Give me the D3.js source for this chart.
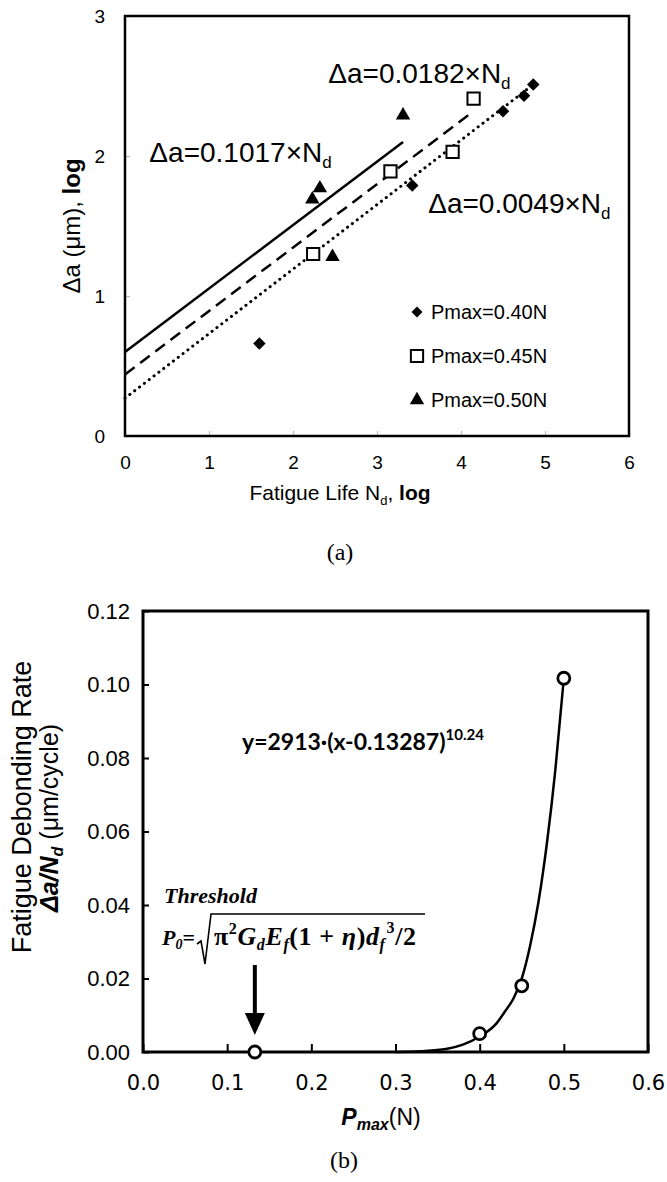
<!DOCTYPE html>
<html>
<head>
<meta charset="utf-8">
<script src="https://cdn.jsdelivr.net/npm/d3@7"></script>
<style>
body{margin:0;background:#fff}
text{font-family:"Liberation Sans",Arial,sans-serif;fill:#000}
</style>
</head>
<body>
<script>
// ---- (a) crack growth vs fatigue life (log-log) ----
var p40x=[1.60,3.42,4.50,4.75,4.86]
var p40y=[0.66,1.79,2.32,2.43,2.51]
var p45x=[2.24,3.16,3.90,4.15]
var p45y=[1.30,1.89,2.03,2.41]
var p50x=[2.23,2.32,2.47,3.31]
var p50y=[1.69,1.77,1.28,2.29]
var legendNames=["Pmax=0.40N","Pmax=0.45N","Pmax=0.50N"]
// trend lines, start and end
var fit50x=[0,3.31], fit50y=[0.60,2.10]
var fit45x=[0,4.15], fit45y=[0.44,2.32]
var fit40x=[0,4.86], fit40y=[0.27,2.51]
var fitCoef=["0.1017","0.0182","0.0049"]
var fitLabelX=[0.29,2.42,3.61]
var fitLabelY=[1.96,2.52,1.59]
var xTicksA=[0,1,2,3,4,5,6]
var yTicksA=[0,1,2,3]

// ---- (b) debonding rate vs Pmax ----
var pmax=[0.13287,0.40,0.45,0.50]
var rate=[0,0.005,0.018,0.1017]
var curveX=[0.30,0.33,0.36,0.38,0.40,0.42,0.43,0.44,0.45,0.46,0.47,0.48,0.49,0.50]
var curveY=[0,0.0002,0.0008,0.002,0.0042,0.0078,0.011,0.0145,0.020,0.029,0.041,0.057,0.077,0.1017]
var xTicksB=[0,0.1,0.2,0.3,0.4,0.5,0.6]
var yTicksB=[0,0.02,0.04,0.06,0.08,0.10,0.12]

var svg=d3.select("body").append("svg")
          .attr("width",667)
          .attr("height",1182)

// ================= chart (a) =================
var A={left:125,top:16,right:629,bottom:436}
var xA=d3.scaleLinear().domain([0,6]).range([A.left,A.right])
var yA=d3.scaleLinear().domain([0,3]).range([A.bottom,A.top])

var axA=svg.append("g")
           .attr("transform","translate(0,"+A.bottom+")")
           .call(d3.axisBottom(xA).tickValues(xTicksA).tickSize(-5).tickPadding(20).tickFormat(d3.format("d")))
var ayA=svg.append("g")
           .attr("transform","translate("+A.left+",0)")
           .call(d3.axisLeft(yA).tickValues(yTicksA).tickSize(-5).tickPadding(20).tickFormat(d3.format("d")))
;[axA,ayA].forEach(function(g){
  g.select(".domain").remove()
  g.selectAll("line").attr("stroke","#bbb").attr("stroke-width",1.2)
  g.selectAll("text").style("font-size","19px").style("font-family","Liberation Sans, Arial")
})

svg.append("rect")
   .attr("x",A.left).attr("y",A.top)
   .attr("width",A.right-A.left).attr("height",A.bottom-A.top)
   .attr("fill","none").attr("stroke","#000").attr("stroke-width",2.5)

// trend lines
var lineA=d3.line().x(function(d){return xA(d[0])}).y(function(d){return yA(d[1])})
var fits=[
  {x:fit50x,y:fit50y,dash:null},
  {x:fit45x,y:fit45y,dash:"12,7"},
  {x:fit40x,y:fit40y,dash:"0.1,6"}
]
fits.forEach(function(f){
  svg.append("path")
     .datum(f.x.map(function(v,i){return [v,f.y[i]]}))
     .attr("d",lineA)
     .attr("fill","none")
     .attr("stroke","#000")
     .attr("stroke-width",f.dash=="0.1,6"?3:2.5)
     .attr("stroke-linecap",f.dash=="0.1,6"?"round":"butt")
     .attr("stroke-dasharray",f.dash)
})

// markers
var diamond=d3.symbol().type(d3.symbolSquare).size(78)
var square=d3.symbol().type(d3.symbolSquare).size(150)
var tri=d3.symbol().type(d3.symbolTriangle).size(90)

svg.append("g").selectAll("path")
   .data(p40x.map(function(v,i){return [v,p40y[i]]}))
   .enter().append("path")
   .attr("d",diamond)
   .attr("transform",function(d){return "translate("+xA(d[0])+","+yA(d[1])+") rotate(45)"})
   .attr("fill","#000")
svg.append("g").selectAll("path")
   .data(p45x.map(function(v,i){return [v,p45y[i]]}))
   .enter().append("path")
   .attr("d",square)
   .attr("transform",function(d){return "translate("+xA(d[0])+","+yA(d[1])+")"})
   .attr("fill","#fff").attr("stroke","#000").attr("stroke-width",2)
svg.append("g").selectAll("path")
   .data(p50x.map(function(v,i){return [v,p50y[i]]}))
   .enter().append("path")
   .attr("d",tri)
   .attr("transform",function(d){return "translate("+xA(d[0])+","+yA(d[1])+")"})
   .attr("fill","#000")

// equation labels
fitCoef.forEach(function(c,i){
  var t=svg.append("text")
           .attr("x",xA(fitLabelX[i]))
           .attr("y",yA(fitLabelY[i]))
           .style("font-size","28px")
  t.append("tspan").text("\u0394a="+c+"\u00d7N")
  t.append("tspan").text("d").style("font-size","17px").attr("dy",6)
})

// legend
var legend=svg.append("g")
              .attr("transform","translate(417,312)")
var legendLines=legend.selectAll("g")
                      .data(legendNames)
                      .enter().append("g")
                      .attr("transform",function(d,i){return "translate(0,"+(i*44)+")"})
legendLines.append("path")
           .attr("d",function(d,i){return i==0?d3.symbol().type(d3.symbolSquare).size(60)():i==1?square():tri()})
           .attr("transform",function(d,i){return i==0?"rotate(45)":""})
           .attr("fill",function(d,i){return i==1?"#fff":"#000"})
           .attr("stroke",function(d,i){return i==1?"#000":"none"})
           .attr("stroke-width",2)
legendLines.append("text")
           .attr("x",14)
           .attr("y",7)
           .style("font-size","20px")
           .text(function(d){return d})

// axis titles
var xtA=svg.append("text").attr("x",340).attr("y",500).attr("text-anchor","middle").style("font-size","21px")
xtA.append("tspan").text("Fatigue Life N")
xtA.append("tspan").text("d").style("font-size","13px").attr("dy",5)
xtA.append("tspan").text(", ").attr("dy",-5)
xtA.append("tspan").text("log").style("font-weight","bold")

var ytA=svg.append("text").attr("transform","translate(80,226) rotate(-90)").attr("text-anchor","middle").style("font-size","24px")
ytA.append("tspan").text("\u0394a (\u03bcm), ")
ytA.append("tspan").text("log").style("font-weight","bold")

svg.append("text").attr("x",340).attr("y",560).attr("text-anchor","middle")
   .style("font-family","Liberation Serif, Times New Roman, serif").style("font-size","24px").text("(a)")

// ================= chart (b) =================
var B={left:143,top:611,right:648,bottom:1052}
var xB=d3.scaleLinear().domain([0,0.6]).range([B.left,B.right])
var yB=d3.scaleLinear().domain([0,0.12]).range([B.bottom,B.top])

var axB=svg.append("g")
           .attr("transform","translate(0,"+B.bottom+")")
           .call(d3.axisBottom(xB).tickValues(xTicksB).tickSize(-8).tickPadding(23).tickFormat(d3.format(".1f")))
var ayB=svg.append("g")
           .attr("transform","translate("+B.left+",0)")
           .call(d3.axisLeft(yB).tickValues(yTicksB).tickSize(-6).tickPadding(13).tickFormat(d3.format(".2f")))
;[axB,ayB].forEach(function(g){
  g.select(".domain").remove()
  g.selectAll("line").attr("stroke","#000").attr("stroke-width",2)
})
axB.selectAll("text").style("font-size","21px").style("font-family","DejaVu Sans, Verdana")
ayB.selectAll("text").style("font-size","22px").style("font-family","Liberation Sans, Arial")

svg.append("rect")
   .attr("x",B.left).attr("y",B.top)
   .attr("width",B.right-B.left).attr("height",B.bottom-B.top)
   .attr("fill","none").attr("stroke","#000").attr("stroke-width",3)

var lineB=d3.line()
            .x(function(d){return xB(d[0])})
            .y(function(d){return yB(d[1])})
            .curve(d3.curveMonotoneX)
svg.append("path")
   .datum(curveX.map(function(v,i){return [v,curveY[i]]}))
   .attr("d",lineB)
   .attr("fill","none").attr("stroke","#000").attr("stroke-width",2.5)

svg.append("g").selectAll("circle")
   .data(pmax.map(function(v,i){return [v,rate[i]]}))
   .enter().append("circle")
   .attr("cx",function(d){return xB(d[0])})
   .attr("cy",function(d){return yB(d[1])})
   .attr("r",6)
   .attr("fill","#fff").attr("stroke","#000").attr("stroke-width",2.8)

// fitted equation
var eq=svg.append("text").attr("x",242).attr("y",750)
          .style("font-family","Lato, Open Sans, sans-serif").style("font-weight","bold").style("font-size","23px")
eq.append("tspan").text("y=2913\u00b7(x-0.13287)")
eq.append("tspan").text("10.24").style("font-size","15px").attr("dy",-10)

// threshold note
var serif="Liberation Serif, Times New Roman, serif"
svg.append("text").attr("x",164).attr("y",903)
   .style("font-family",serif).style("font-weight","bold").style("font-style","italic").style("font-size","22px")
   .text("Threshold")
var p0=svg.append("text").attr("x",162).attr("y",945)
          .style("font-family",serif).style("font-weight","bold").style("font-style","italic").style("font-size","22px")
p0.append("tspan").text("P")
p0.append("tspan").text("0").style("font-size","14px").attr("dy",4)
p0.append("tspan").text("=").attr("dy",-4).style("font-style","normal")
svg.append("path")
   .attr("d","M197,944 L201,941 L205,964 L211,914 L425,914")
   .attr("fill","none").attr("stroke","#000").attr("stroke-width",1.6)
var rad=svg.append("text").attr("x",214).attr("y",945)
           .style("font-family",serif).style("font-weight","bold").style("font-size","26px")
           .style("letter-spacing","0.6px")
rad.append("tspan").text("\u03c0")
rad.append("tspan").text("2").style("font-size","16px").attr("dy",-11)
rad.append("tspan").text("G").style("font-style","italic").attr("dy",11)
rad.append("tspan").text("d").style("font-style","italic").style("font-size","16px").attr("dy",5)
rad.append("tspan").text("E").style("font-style","italic").attr("dy",-5)
rad.append("tspan").text("f").style("font-style","italic").style("font-size","16px").attr("dy",5)
rad.append("tspan").text("(1 + ").attr("dy",-5)
rad.append("tspan").text("\u03b7").style("font-style","italic")
rad.append("tspan").text(")")
rad.append("tspan").text("d").style("font-style","italic")
rad.append("tspan").text("f").style("font-style","italic").style("font-size","16px").attr("dy",5)
rad.append("tspan").text("3").style("font-size","16px").attr("dx",1).attr("dy",-17)
rad.append("tspan").text("/2").attr("dy",12)

// arrow to threshold point
var ax0=xB(pmax[0])
svg.append("line").attr("x1",ax0).attr("x2",ax0).attr("y1",965).attr("y2",1018)
   .attr("stroke","#000").attr("stroke-width",4)
svg.append("path")
   .attr("d","M"+(ax0-10)+",1013 L"+(ax0+10)+",1013 L"+ax0+",1035 Z")
   .attr("fill","#000")

// axis titles
var xtB=svg.append("text").attr("x",381).attr("y",1125).attr("text-anchor","middle").style("font-size","23px")
xtB.append("tspan").text("P").style("font-weight","bold").style("font-style","italic")
xtB.append("tspan").text("max").style("font-weight","bold").style("font-style","italic").style("font-size","16px").attr("dy",5)
xtB.append("tspan").text("(N)").attr("dy",-5)

svg.append("text").attr("transform","translate(31,807) rotate(-90)").attr("text-anchor","middle")
   .style("font-size","27px").text("Fatigue Debonding Rate")
var ytB=svg.append("text").attr("transform","translate(58,818) rotate(-90)").attr("text-anchor","middle").style("font-size","25px")
ytB.append("tspan").text("\u0394a/N").style("font-weight","bold").style("font-style","italic")
ytB.append("tspan").text("d").style("font-weight","bold").style("font-style","italic").style("font-size","16px").attr("dy",5)
ytB.append("tspan").text(" (\u03bcm/cycle)").attr("dy",-5)

svg.append("text").attr("x",344).attr("y",1168).attr("text-anchor","middle")
   .style("font-family",serif).style("font-size","24px").text("(b)")
</script>
</body>
</html>
